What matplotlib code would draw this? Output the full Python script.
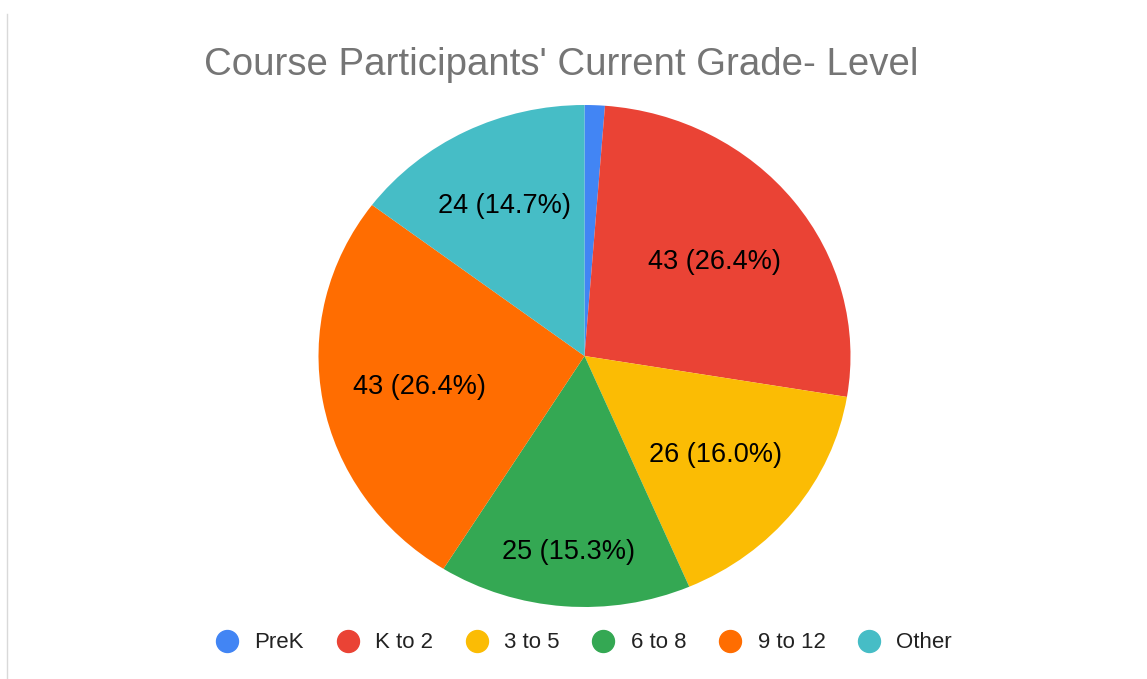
import matplotlib.pyplot as plt
import numpy as np
from matplotlib.lines import Line2D

plt.rcParams['font.family'] = ['Liberation Sans', 'DejaVu Sans']

# Data
categories = ['PreK', 'K to 2', '3 to 5', '6 to 8', '9 to 12', 'Other']
counts = [2, 43, 26, 25, 43, 24]
colors = ['#4285F4', '#EA4335', '#FBBC04', '#34A853', '#FF6D01', '#46BDC6']
title = "Course Participants' Current Grade- Level"

# where each slice label sits (fraction of radius); None = hidden
label_radius = [None, 0.62, 0.625, 0.775, 0.63, 0.675]

W, H = 1147, 679
fig = plt.figure(figsize=(W / 100, H / 100), dpi=100)

# pie box in pixels (slightly wider than tall, like the original)
left, right, top, bottom = 318.5, 850.5, 105, 607
ax = fig.add_axes([left / W, (H - bottom) / H, (right - left) / W, (bottom - top) / H])

wedges, _ = ax.pie(counts, colors=colors, startangle=90, counterclock=False,
                   wedgeprops=dict(linewidth=0))
ax.set_aspect('auto')
ax.set_xlim(-1, 1)
ax.set_ylim(-1, 1)
ax.axis('off')

total = sum(counts)
for w, n, r in zip(wedges, counts, label_radius):
    if r is None:
        continue
    mid = np.deg2rad((w.theta1 + w.theta2) / 2)
    ax.text(r * np.cos(mid), r * np.sin(mid) - 0.008, f'{n} ({100 * n / total:.1f}%)',
            ha='center', va='center', fontsize=19.5, color='#000000')

fig.text(561 / W, 1 - 75 / H, title, ha='center', va='baseline',
         fontsize=27.6, color='#757575')

handles = [Line2D([], [], marker='o', linestyle='none', markersize=15.8,
                  markerfacecolor=c, markeredgecolor=c) for c in colors]
fig.legend(handles, categories, loc='center', bbox_to_anchor=(584 / W, 1 - 643 / H),
           ncol=6, frameon=False, fontsize=16, handlelength=1.0, handletextpad=0.74,
           columnspacing=1.46, labelcolor='#222222', borderpad=0, borderaxespad=0)

# thin border line on the left edge
fig.add_artist(Line2D([6.5 / W, 6.5 / W], [0, 1 - 14 / H], color='#d9d9d9', linewidth=1))

fig.savefig('out.png', dpi=100)
